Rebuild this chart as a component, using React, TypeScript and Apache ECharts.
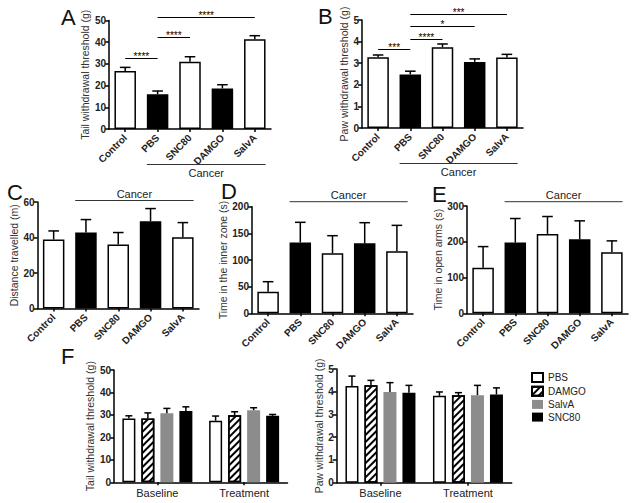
import React, { useEffect, useRef } from "react";
import * as echarts from "echarts";

// ---------- data ----------
const groups = ["Control", "PBS", "SNC80", "DAMGO", "SalvA"];
const filledGroups = ["PBS", "DAMGO"];

const tailMean = [26.7, 16.0, 31.0, 18.7, 41.4];
const tailSem = [1.7, 1.5, 2.3, 1.7, 1.6];
const pawMean = [3.27, 2.48, 3.74, 3.06, 3.26];
const pawSem = [0.11, 0.15, 0.15, 0.14, 0.15];
const distMean = [38.9, 42.8, 36.0, 49.2, 40.2];
const distSem = [4.8, 7.3, 6.8, 7.1, 8.2];
const innerMean = [40.5, 133, 112.6, 131.3, 116.3];
const innerSem = [18.8, 37.7, 33, 38.7, 48.7];
const openMean = [127.7, 197.8, 222, 207, 171];
const openSem = [58.8, 67.2, 48.6, 51.5, 31.5];

// significance brackets: [fromGroupIndex, toGroupIndex, yValue]
const tailSig = [[0, 1, 32.6], [1, 2, 42.3], [1, 4, 51.5]];
const tailSigLabels = ["****", "****", "****"];
const pawSig = [[0, 1, 3.65], [1, 2, 4.11], [1, 3, 4.7], [1, 4, 5.26]];
const pawSigLabels = ["***", "****", "*", "***"];
const cancerSpan = [1, 4];
const cancerLabel = "Cancer";

const phases = ["Baseline", "Treatment"];
const treatments = ["PBS", "DAMGO", "SalvA", "SNC80"];
const fTailMean = [[28.4, 27.4], [28.4, 29.9], [30.7, 32.1], [31.8, 29.6]];
const fTailSem = [[1.2, 2.1], [2.5, 1.5], [2.2, 1.1], [1.8, 0.6]];
const fPawMean = [[4.25, 3.82], [4.28, 3.85], [3.99, 3.85], [3.96, 3.88]];
const fPawSem = [[0.44, 0.17], [0.22, 0.11], [0.41, 0.43], [0.32, 0.29]];

const panelLetters = ["A", "B", "C", "D", "E", "F"];

// ---------- styling / layout ----------
const FONT = "'Liberation Sans', Arial, Helvetica, sans-serif";
const BAR_W = 21.5;
const F_BAR_W = 13;
const F_STEP = 19;

const panels = [
  { grid: { left: 109, top: 20.5, width: 162, height: 108.5 }, max: 50, interval: 10, name: "Tail withdrawal threshold (g)", nameGap: 13, mean: tailMean, sem: tailSem, sig: tailSig, sigLabels: tailSigLabels, cancer: "below", cancerOff: 35.5 },
  { grid: { left: 362, top: 20, width: 161, height: 108 }, max: 5, interval: 1, name: "Paw withdrawal threshold (g)", nameGap: 11, mean: pawMean, sem: pawSem, sig: pawSig, sigLabels: pawSigLabels, cancer: "below", cancerOff: 35.5 },
  { grid: { left: 37.5, top: 202, width: 161.5, height: 106.5 }, max: 60, interval: 20, name: "Distance travelled (m)", nameGap: 18.5, mean: distMean, sem: distSem, sig: [], sigLabels: [], cancer: "above", cancerOff: 1.5 },
  { grid: { left: 252, top: 206.7, width: 161, height: 106.6 }, max: 200, interval: 50, name: "Time in the inner zone (s)", nameGap: 23, mean: innerMean, sem: innerSem, sig: [], sigLabels: [], cancer: "above", cancerOff: 5 },
  { grid: { left: 467, top: 206, width: 161, height: 107.3 }, max: 300, interval: 100, name: "Time in open arms (s)", nameGap: 23, mean: openMean, sem: openSem, sig: [], sigLabels: [], cancer: "above", cancerOff: 4.3 },
];

const fPanels = [
  { grid: { left: 114, top: 370, width: 173.5, height: 112.3 }, max: 50, interval: 10, name: "Tail withdrawal threshold (g)", nameGap: 16, mean: fTailMean, sem: fTailSem },
  { grid: { left: 336.7, top: 369, width: 175, height: 113.7 }, max: 5, interval: 1, name: "Paw withdrawal threshold (g)", nameGap: 9, mean: fPawMean, sem: fPawSem },
];

const letterPos = [
  [61, 18], [318, 17], [7, 193], [221, 192], [432, 195], [61, 357],
];

const hatch = {
  symbol: "rect",
  symbolSize: 1,
  dashArrayX: [1, 0],
  dashArrayY: [2, 3],
  rotation: -Math.PI / 4,
  color: "#000",
  backgroundColor: "#fff",
};

const fStyles = [
  { color: "#fff", borderColor: "#000", borderWidth: 1.5 },
  { color: "#fff", borderColor: "#000", borderWidth: 1.5, decal: hatch },
  { color: "#8c8c8c", borderColor: "#8c8c8c", borderWidth: 0 },
  { color: "#000", borderColor: "#000", borderWidth: 0 },
];

const axisLine = { lineStyle: { color: "#000", width: 1.5 } };

function yAxisFor(i: number, p: any) {
  return {
    type: "value",
    gridIndex: i,
    min: 0,
    max: p.max,
    interval: p.interval,
    name: p.name,
    nameLocation: "middle",
    nameGap: p.nameGap,
    nameTextStyle: { fontSize: 10.5, color: "#333", fontFamily: FONT },
    axisLine: { show: true, ...axisLine },
    axisTick: { show: true, length: 4, lineStyle: { color: "#000", width: 1.5 } },
    axisLabel: { fontSize: 10, fontWeight: "bold", color: "#222", margin: 3, fontFamily: FONT },
    splitLine: { show: false },
  };
}

function errorSeries(axis: number, mean: number[], sem: number[], offset: number, capHalf: number) {
  return {
    type: "custom",
    xAxisIndex: axis,
    yAxisIndex: axis,
    clip: false,
    z: 5,
    silent: true,
    itemStyle: { color: "#000" },
    encode: { x: 0, y: 1 },
    data: mean.map((v, j) => [j, v, sem[j]]),
    renderItem: (params: any, api: any) => {
      const j = api.value(0);
      const v = api.value(1);
      const e = api.value(2);
      const a = api.coord([j, v]);
      const b = api.coord([j, v + e]);
      const x = a[0] + offset;
      return {
        type: "group",
        children: [
          { type: "line", shape: { x1: x, y1: a[1], x2: x, y2: b[1] }, style: { stroke: "#000", lineWidth: 1.5 } },
          { type: "line", shape: { x1: x - capHalf, y1: b[1], x2: x + capHalf, y2: b[1] }, style: { stroke: "#000", lineWidth: 1.5 } },
        ],
      };
    },
  };
}

function sigSeries(axis: number, sig: number[][], labels: string[]) {
  return {
    type: "custom",
    xAxisIndex: axis,
    yAxisIndex: axis,
    clip: false,
    z: 6,
    silent: true,
    itemStyle: { color: "#000" },
    encode: { x: 0, y: 2 },
    data: sig,
    renderItem: (params: any, api: any) => {
      const y = api.value(2);
      const a = api.coord([api.value(0), y]);
      const b = api.coord([api.value(1), y]);
      const ly = Math.round(a[1]) + 0.5;
      return {
        type: "group",
        children: [
          { type: "line", shape: { x1: a[0], y1: ly, x2: b[0], y2: ly }, style: { stroke: "#000", lineWidth: 1.2 } },
          {
            type: "text",
            x: (a[0] + b[0]) / 2,
            y: ly + 2.5,
            style: { text: labels[params.dataIndex], align: "center", verticalAlign: "bottom", fontSize: 10, fontFamily: FONT, fill: "#000" },
          },
        ],
      };
    },
  };
}

function cancerSeries(axis: number, p: any) {
  return {
    type: "custom",
    xAxisIndex: axis,
    yAxisIndex: axis,
    clip: false,
    z: 6,
    silent: true,
    itemStyle: { color: "#000" },
    encode: { x: 0, y: 2 },
    data: [[cancerSpan[0], cancerSpan[1], 0]],
    renderItem: (params: any, api: any) => {
      const below = p.cancer === "below";
      const yv = below ? 0 : p.max;
      const a = api.coord([api.value(0), yv]);
      const b = api.coord([api.value(1), yv]);
      const y = below ? a[1] + p.cancerOff : a[1] - p.cancerOff;
      const x1 = a[0] - BAR_W / 2;
      const x2 = b[0] + BAR_W / 2;
      return {
        type: "group",
        children: [
          { type: "line", shape: { x1, y1: y, x2, y2: y }, style: { stroke: "#333", lineWidth: 1 } },
          {
            type: "text",
            x: (x1 + x2) / 2,
            y: below ? y + 8 : y - 7,
            style: { text: cancerLabel, align: "center", verticalAlign: "middle", fontSize: 11, fontFamily: FONT, fill: "#222" },
          },
        ],
      };
    },
  };
}

function buildOption() {
  const grid: any[] = [];
  const xAxis: any[] = [];
  const yAxis: any[] = [];
  const series: any[] = [];

  panels.forEach((p, i) => {
    grid.push({ ...p.grid, containLabel: false });
    xAxis.push({
      type: "category",
      gridIndex: i,
      data: groups,
      axisLine: { show: true, ...axisLine },
      axisTick: { show: true, alignWithLabel: true, length: 3, lineStyle: { color: "#000", width: 1.5 } },
      axisLabel: { rotate: 45, fontSize: 10, fontWeight: "bold", color: "#222", margin: 7, interval: 0, fontFamily: FONT },
      splitLine: { show: false },
    });
    yAxis.push(yAxisFor(i, p));
    series.push({
      type: "bar",
      xAxisIndex: i,
      yAxisIndex: i,
      barWidth: BAR_W,
      silent: true,
      data: p.mean.map((v, j) => ({
        value: v,
        itemStyle: { color: filledGroups.includes(groups[j]) ? "#000" : "#fff" },
      })),
      itemStyle: { borderColor: "#000", borderWidth: 1.5 },
    });
    series.push(errorSeries(i, p.mean, p.sem, 0, 5.3));
    if (p.sig.length) series.push(sigSeries(i, p.sig, p.sigLabels));
    series.push(cancerSeries(i, p));
  });

  fPanels.forEach((p, fi) => {
    const i = panels.length + fi;
    grid.push({ ...p.grid, containLabel: false });
    xAxis.push({
      type: "category",
      gridIndex: i,
      data: phases,
      axisLine: { show: true, ...axisLine },
      axisTick: { show: true, alignWithLabel: true, length: 3, lineStyle: { color: "#000", width: 1.5 } },
      axisLabel: { fontSize: 11, color: "#222", margin: 5, fontFamily: FONT },
      splitLine: { show: false },
    });
    yAxis.push(yAxisFor(i, p));
    treatments.forEach((t, k) => {
      series.push({
        type: "bar",
        name: t,
        xAxisIndex: i,
        yAxisIndex: i,
        barWidth: F_BAR_W,
        barGap: ((F_STEP - F_BAR_W) / F_BAR_W) * 100 + "%",
        silent: true,
        data: p.mean[k],
        itemStyle: fStyles[k],
      });
    });
    treatments.forEach((t, k) => {
      series.push(errorSeries(i, p.mean[k], p.sem[k], (k - 1.5) * F_STEP, 3.5));
    });
  });

  const graphic = panelLetters.map((l, i) => ({
    type: "text",
    left: letterPos[i][0],
    top: letterPos[i][1] - 12,
    style: { text: l, fontSize: 22, fontFamily: FONT, fill: "#111" },
  }));

  return {
    animation: false,
    backgroundColor: "#fff",
    textStyle: { fontFamily: FONT },
    grid,
    xAxis,
    yAxis,
    series,
    graphic,
    legend: {
      data: treatments,
      orient: "vertical",
      left: 531,
      top: 372,
      padding: 0,
      itemWidth: 11,
      itemHeight: 9,
      itemGap: 2.7,
      icon: "rect",
      selectedMode: false,
      textStyle: { fontSize: 10, color: "#222", fontFamily: FONT },
    },
  };
}

export default function App() {
  const ref = useRef<HTMLDivElement>(null);
  useEffect(() => {
    if (!ref.current) return;
    const chart = echarts.init(ref.current, undefined, { renderer: "svg" });
    chart.setOption(buildOption() as any);
    return () => chart.dispose();
  }, []);
  return (
    <div
      ref={ref}
      style={{ position: "absolute", left: 0, top: 0, width: 635, height: 503, background: "#fff" }}
    />
  );
}
